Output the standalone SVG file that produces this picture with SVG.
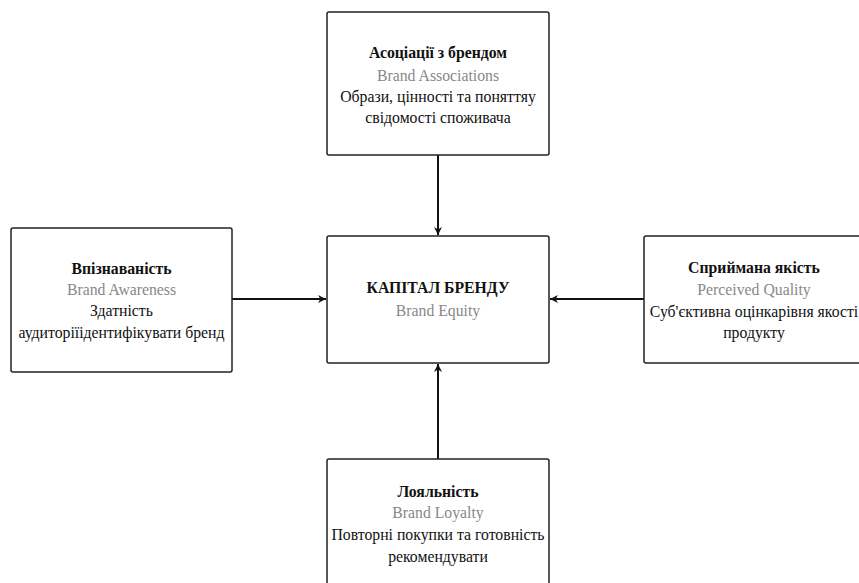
<svg xmlns="http://www.w3.org/2000/svg" width="859" height="583" viewBox="0 0 859 583">
<defs>
<marker id="arr" viewBox="0 0 10 10" refX="10" refY="5" markerWidth="8" markerHeight="8" markerUnits="userSpaceOnUse" orient="auto">
<path d="M0,0 L10,5 L0,10 L3,5 Z" fill="#111"/>
</marker>
</defs>
<style>
.box{fill:#fff;stroke:#222;stroke-width:1.5}
text{font-family:"Liberation Serif","Times New Roman",serif;font-size:15.75px;text-anchor:middle;fill:#111}
.t{font-weight:bold}
.s{fill:#888}
.c{stroke:#111;stroke-width:2;fill:none}
</style>
<rect width="859" height="583" fill="#fff"/>
<g id="connectors">
<line class="c" x1="438" y1="155" x2="438" y2="235" marker-end="url(#arr)"/>
<line class="c" x1="232" y1="299" x2="326" y2="299" marker-end="url(#arr)"/>
<line class="c" x1="644" y1="299" x2="550" y2="299" marker-end="url(#arr)"/>
<line class="c" x1="438" y1="459" x2="438" y2="364" marker-end="url(#arr)"/>
</g>
<g id="node-associations">
<rect class="box" x="327" y="12" width="222" height="143" rx="2"/>
<text class="t" x="438" y="58">Асоціації з брендом</text>
<text class="s" x="438" y="81">Brand Associations</text>
<text x="438" y="102">Образи, цінності та поняттяу</text>
<text x="438" y="123">свідомості споживача</text>
</g>
<g id="node-awareness">
<rect class="box" x="11" y="228" width="221" height="144" rx="2"/>
<text class="t" x="121.5" y="274">Впізнаваність</text>
<text class="s" x="121.5" y="295">Brand Awareness</text>
<text x="121.5" y="316">Здатність</text>
<text x="121.5" y="338">аудиторіїідентифікувати бренд</text>
</g>
<g id="node-equity">
<rect class="box" x="327" y="236" width="222" height="127" rx="2"/>
<text class="t" x="438" y="293">КАПІТАЛ БРЕНДУ</text>
<text class="s" x="438" y="316">Brand Equity</text>
</g>
<g id="node-quality">
<rect class="box" x="644" y="236" width="222" height="127" rx="2"/>
<text class="t" x="754" y="273">Сприймана якість</text>
<text class="s" x="754" y="295">Perceived Quality</text>
<text x="754" y="317">Суб'єктивна оцінкарівня якості</text>
<text x="754" y="338">продукту</text>
</g>
<g id="node-loyalty">
<rect class="box" x="327" y="459" width="222" height="140" rx="2"/>
<text class="t" x="438" y="497">Лояльність</text>
<text class="s" x="438" y="518">Brand Loyalty</text>
<text x="438" y="540">Повторні покупки та готовність</text>
<text x="438" y="562">рекомендувати</text>
</g>
</svg>
